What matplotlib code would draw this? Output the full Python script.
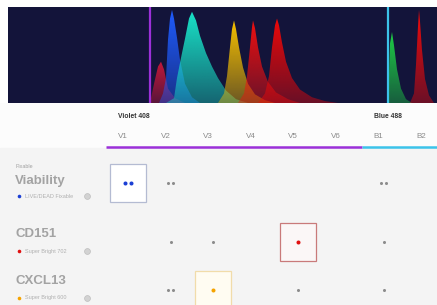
import numpy as np
import matplotlib.pyplot as plt
from matplotlib.colors import to_rgb
from matplotlib.patches import Rectangle

plt.rcParams['font.family'] = ['Liberation Sans', 'DejaVu Sans']

# ---- datos del visor de espectros (posición en el eje, intensidad 0..1) ----
laser_names = ['Violet 408', 'Blue 488']
laser_colors = ['#9b30d9', '#3cc3ea']
laser_line_pos = [150, 388]
laser_first_channel = [0, 6]

red_vl_x = [150, 154, 158, 161, 164, 168, 175, 185]
red_vl_y = [0.0, 0.2, 0.38, 0.43, 0.35, 0.15, 0.05, 0.0]
blue_x = [159, 163, 166, 168, 170, 172, 174, 177, 180, 185, 192, 200]
blue_y = [0.0, 0.1, 0.26, 0.66, 0.88, 0.97, 0.88, 0.68, 0.45, 0.2, 0.06, 0.0]
teal_x = [166, 174, 177, 181, 185, 189, 192, 196, 200, 206, 212, 218, 226, 236, 248]
teal_y = [0.0, 0.05, 0.26, 0.47, 0.67, 0.88, 0.95, 0.86, 0.7, 0.52, 0.38, 0.26, 0.13, 0.04, 0.0]
yellow_x = [218, 224, 227, 230, 232, 234, 236, 239, 243, 248, 255, 265, 275]
yellow_y = [0.0, 0.1, 0.28, 0.58, 0.77, 0.86, 0.77, 0.58, 0.37, 0.2, 0.09, 0.03, 0.0]
red2_x = [238, 244, 247, 250, 252, 253, 255, 258, 262, 268, 276, 288, 300]
red2_y = [0.0, 0.1, 0.28, 0.58, 0.79, 0.86, 0.78, 0.58, 0.38, 0.22, 0.11, 0.04, 0.0]
red3_x = [258, 265, 269, 272, 275, 277, 279, 282, 286, 292, 300, 312, 325, 338]
red3_y = [0.0, 0.1, 0.28, 0.58, 0.81, 0.88, 0.81, 0.63, 0.43, 0.26, 0.14, 0.06, 0.02, 0.0]
green_x = [388, 389, 390, 392, 394, 397, 401, 406, 412]
green_y = [0.0, 0.3, 0.62, 0.74, 0.6, 0.35, 0.15, 0.04, 0.0]
red_bl_x = [410, 414, 416, 418, 419, 420, 422, 425, 429, 434]
red_bl_y = [0.0, 0.1, 0.4, 0.8, 0.97, 0.85, 0.55, 0.25, 0.08, 0.0]

espectros = [
    (red_vl_x, red_vl_y, '#c4183a'),
    (blue_x, blue_y, '#1f5cff'),
    (teal_x, teal_y, '#19e3c8'),
    (yellow_x, yellow_y, '#f7c100'),
    (red2_x, red2_y, '#f01010'),
    (red3_x, red3_y, '#ee0808'),
    (green_x, green_y, '#1fcf45'),
    (red_bl_x, red_bl_y, '#f20a0a'),
]

# ---- datos de la matriz de canales ----
channels = ['V1', 'V2', 'V3', 'V4', 'V5', 'V6', 'B1', 'B2']
markers = ['Viability', 'CD151', 'CXCL13']
marker_prefix = ['Fixable', '', '']
fluors = ['LIVE/DEAD Fixable', 'Super Bright 702', 'Super Bright 600']
fluor_colors = ['#1b3fd4', '#e01010', '#f5a300']
box_edge = ['#b4bbd2', '#c97a7a', '#f1dcaa']
box_face = ['#ffffff', '#fbf7f7', '#fffcf2']
primary_channel = [0, 4, 2]
# número de puntos en cada canal (0 = vacío)
viability_dots = [2, 2, 0, 0, 0, 0, 2, 0]
cd151_dots = [0, 1, 1, 0, 1, 0, 1, 0]
cxcl13_dots = [0, 2, 1, 0, 1, 0, 1, 0]
dots = [viability_dots, cd151_dots, cxcl13_dots]

W, H = 437, 305
fig = plt.figure(figsize=(W / 100, H / 100), dpi=100)
fig.patch.set_facecolor('white')

# ===== 1. Panel de espectros =====
top_px, bot_px, left_px = 7, 103, 8
ax_s = fig.add_axes([left_px / W, (H - bot_px) / H, (W - left_px) / W, (bot_px - top_px) / H])
ax_s.set_facecolor('#13143a')


def relleno_degradado(ax, x, y, color, alpha_bajo=0.4):
    poly, = ax.fill(x, y, facecolor='none', edgecolor='none')
    img = np.zeros((100, 1, 4))
    img[:, :, :3] = to_rgb(color)
    img[:, 0, 3] = np.linspace(alpha_bajo, 1.0, 100)
    im = ax.imshow(img, extent=[min(x), max(x), 0, max(y)], origin='lower',
                   aspect='auto', interpolation='bilinear')
    im.set_clip_path(poly)


for x, y, c in espectros:
    relleno_degradado(ax_s, x, y, c)

for pos, c in zip(laser_line_pos, laser_colors):
    ax_s.axvline(pos, color=c, lw=1.6)

ax_s.set_xlim(left_px, W)
ax_s.set_ylim(0, 1.0)
ax_s.set_xticks([])
ax_s.set_yticks([])
for s in ax_s.spines.values():
    s.set_visible(False)

# ===== 2. Matriz de canales =====
ax = fig.add_axes([0, 0, 1, (H - bot_px) / H])
ax.set_xlim(0, W)
ax.set_ylim(H, bot_px)
ax.axis('off')

header_bottom = 148
ax.add_patch(Rectangle((0, bot_px), W, header_bottom - bot_px, color='#fcfcfc', zorder=0))
ax.add_patch(Rectangle((0, header_bottom), W, H - header_bottom, color='#f4f4f4', zorder=0))

col0, dx = 128, 42.6
col_x = [col0 + dx * i for i in range(len(channels))]

for i, ch in enumerate(channels):
    ax.text(col_x[i] - 5, 136, ch, fontsize=5.8, color='#8a8a8a', ha='center', va='center')

for k, name in enumerate(laser_names):
    i0 = laser_first_channel[k]
    i1 = laser_first_channel[k + 1] if k + 1 < len(laser_names) else len(channels)
    x0 = col_x[i0] - 22 if k > 0 else 106
    x1 = col_x[i1] - 22 if i1 < len(channels) else W
    ax.plot([x0, x1], [147, 147], color=laser_colors[k], lw=1.8, solid_capstyle='butt')
    ax.text(col_x[i0] - 10, 116, name, fontsize=4.9, color='#333333', fontweight='bold',
            ha='left', va='center')

row_dot_y = [183, 242, 290]
row_title_y = [181, 234, 281]
row_leg_y = [196, 251, 298]

for r, m in enumerate(markers):
    if marker_prefix[r]:
        ax.text(16, 166, marker_prefix[r], fontsize=3.9, color='#a0a0a0', va='center')
    ax.text(15, row_title_y[r], m, fontsize=9.5, fontweight='bold', color='#a3a3a3', va='center')
    ax.plot(19, row_leg_y[r], 'o', ms=2.6, color=fluor_colors[r], mec='none')
    ax.text(25, row_leg_y[r], fluors[r], fontsize=4.0, color='#b0b0b0', va='center')
    ax.plot(87, row_leg_y[r], 'o', ms=4.2, mfc='#d2d2d2', mec='#bdbdbd', mew=0.5)

    pc = primary_channel[r]
    ax.add_patch(Rectangle((col_x[pc] - 18, row_dot_y[r] - 19), 36, 38,
                           facecolor=box_face[r], edgecolor=box_edge[r], lw=0.9, zorder=1))
    for i, n in enumerate(dots[r]):
        if n == 0:
            continue
        if i == pc:
            c, ms = fluor_colors[r], 2.9
        else:
            c, ms = '#8c8c8c', 2.2
        offs = [0] if n == 1 else [-2.6, 2.6]
        for o in offs:
            ax.plot(col_x[i] + o, row_dot_y[r], 'o', ms=ms, color=c, mec='none', zorder=3)

plt.savefig('out.png', dpi=100, facecolor='white')
